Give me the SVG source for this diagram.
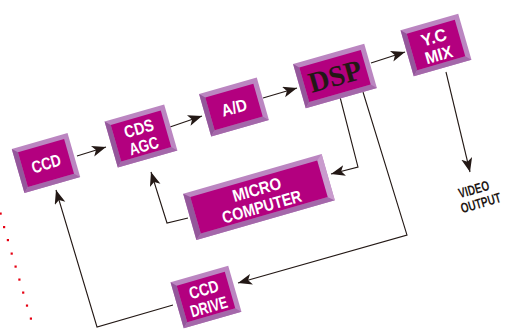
<svg xmlns="http://www.w3.org/2000/svg" width="508" height="329" viewBox="0 0 508 329">
<defs>
<style>
.outer{fill:#bb86c1}
.lt{fill:#c99bcd}
.dk{fill:#94579b}
.dk2{fill:#a468aa}
.inner{fill:#b3007f}
.lbl{font-family:"Liberation Sans",Arial,sans-serif;font-weight:bold;fill:#ffffff;font-size:17px;text-anchor:middle}
.conn{fill:none;stroke:#231815;stroke-width:1.1}
.out{font-family:"Liberation Sans",Arial,sans-serif;font-weight:bold;fill:#231815;font-size:14px;text-anchor:middle}
</style>
<marker id="ah" markerUnits="userSpaceOnUse" markerWidth="16" markerHeight="12" refX="14" refY="5.5" orient="auto">
<path d="M0,0 L14,5.5 L0,11 L3.5,5.5 z" fill="#231815"/>
</marker>
</defs>
<g id="connectors">
<path class="conn" d="M77,156 L106,147" marker-end="url(#ah)"/>
<path class="conn" d="M170,127 L202,116" marker-end="url(#ah)"/>
<path class="conn" d="M263,98 L297,88" marker-end="url(#ah)"/>
<path class="conn" d="M371,63 L405,52" marker-end="url(#ah)"/>
<path class="conn" d="M446,72 L470,172" marker-end="url(#ah)"/>
<path class="conn" d="M340,97 L358,167 L331,174" marker-end="url(#ah)"/>
<path class="conn" d="M188,218 L167,223 L151,172" marker-end="url(#ah)"/>
<path class="conn" d="M363,92 L407,235 L238,283" marker-end="url(#ah)"/>
<path class="conn" d="M173,305 L97,327 L56,190" marker-end="url(#ah)"/>
</g>
<g id="dots" fill="#e60012">
<rect x="-0.5" y="212.5" width="2.2" height="2.2"/>
<rect x="3" y="226" width="2.2" height="2.2"/>
<rect x="6.8" y="239" width="2.2" height="2.2"/>
<rect x="10.6" y="252.5" width="2.2" height="2.2"/>
<rect x="14.5" y="265.5" width="2.2" height="2.2"/>
<rect x="18.3" y="278.5" width="2.2" height="2.2"/>
<rect x="22.1" y="291.5" width="2.2" height="2.2"/>
<rect x="25.9" y="304.5" width="2.2" height="2.2"/>
<rect x="29.8" y="317.5" width="2.2" height="2.2"/>
</g>
<g id="ccd" transform="translate(46,163) rotate(-16)">
<rect class="outer" x="-29" y="-23" width="58" height="46"/>
<polygon class="dk" points="-29,-23 -24,-18 -24,18 -29,23"/>
<polygon class="dk2" points="-29,23 -24,18 24,18 29,23"/>
<rect class="inner" x="-24" y="-18" width="48" height="36"/>
<text class="lbl" x="0" y="6.5" textLength="30" lengthAdjust="spacingAndGlyphs">CCD</text>
</g>
<g id="cdsagc" transform="translate(141,136) rotate(-16)">
<rect class="outer" x="-31" y="-24" width="62" height="48"/>
<polygon class="dk" points="-31,-24 -26,-19 -26,19 -31,24"/>
<polygon class="dk2" points="-31,24 -26,19 26,19 31,24"/>
<rect class="inner" x="-26" y="-19" width="52" height="38"/>
<text class="lbl" x="0" y="-2" textLength="30" lengthAdjust="spacingAndGlyphs">CDS</text>
<text class="lbl" x="0" y="16" textLength="30" lengthAdjust="spacingAndGlyphs">AGC</text>
</g>
<g id="ad" transform="translate(234,107) rotate(-16)">
<rect class="outer" x="-30" y="-22" width="60" height="44"/>
<polygon class="dk" points="-30,-22 -25,-17 -25,17 -30,22"/>
<polygon class="dk2" points="-30,22 -25,17 25,17 30,22"/>
<rect class="inner" x="-25" y="-17" width="50" height="34"/>
<text class="lbl" x="0" y="6.5" textLength="26" lengthAdjust="spacingAndGlyphs">A/D</text>
</g>
<g id="dsp" transform="translate(335,76) rotate(-16)">
<rect class="outer" x="-37" y="-23" width="74" height="46"/>
<polygon class="dk" points="-37,-23 -32,-18 -32,18 -37,23"/>
<polygon class="dk2" points="-37,23 -32,18 32,18 37,23"/>
<rect class="inner" x="-32" y="-18" width="64" height="36"/>
<text x="0" y="10" text-anchor="middle" font-family="'Liberation Serif','Times New Roman',serif" font-weight="bold" font-size="29" fill="#231815" textLength="54" lengthAdjust="spacingAndGlyphs">DSP</text>
</g>
<g id="ycmix" transform="translate(436,45) rotate(-16)">
<rect class="outer" x="-30" y="-24" width="60" height="48"/>
<polygon class="dk" points="-30,-24 -25,-19 -25,19 -30,24"/>
<polygon class="dk2" points="-30,24 -25,19 25,19 30,24"/>
<rect class="inner" x="-25" y="-19" width="50" height="38"/>
<text class="lbl" x="0" y="-2" textLength="26" lengthAdjust="spacingAndGlyphs">Y.C</text>
<text class="lbl" x="0" y="16" textLength="28" lengthAdjust="spacingAndGlyphs">MIX</text>
</g>
<g id="micro" transform="translate(259,197) rotate(-16)">
<rect class="outer" x="-72" y="-24" width="144" height="48"/>
<polygon class="dk" points="-72,-24 -66,-19 -66,19 -72,24"/>
<polygon class="dk2" points="-72,24 -66,19 66,19 72,24"/>
<polygon class="lt" points="72,-24 66,-19 66,19 72,24"/>
<rect class="inner" x="-66" y="-19" width="132" height="38"/>
<text class="lbl" x="0" y="-2" textLength="50" lengthAdjust="spacingAndGlyphs">MICRO</text>
<text class="lbl" x="0" y="16" textLength="82" lengthAdjust="spacingAndGlyphs">COMPUTER</text>
</g>
<g id="ccddrive" transform="translate(206,297) rotate(-16)">
<rect class="outer" x="-30" y="-24" width="60" height="48"/>
<polygon class="dk" points="-30,-24 -25,-19 -25,19 -30,24"/>
<polygon class="dk2" points="-30,24 -25,19 25,19 30,24"/>
<rect class="inner" x="-25" y="-19" width="50" height="38"/>
<text class="lbl" x="0" y="-2" textLength="30" lengthAdjust="spacingAndGlyphs">CCD</text>
<text class="lbl" x="0" y="16" textLength="38" lengthAdjust="spacingAndGlyphs">DRIVE</text>
</g>
<g id="videooutput" transform="translate(479,197) rotate(-16) scale(0.72,1)">
<text class="out" x="-4" y="-4">VIDEO</text>
<text class="out" x="0" y="11">OUTPUT</text>
</g>
</svg>
